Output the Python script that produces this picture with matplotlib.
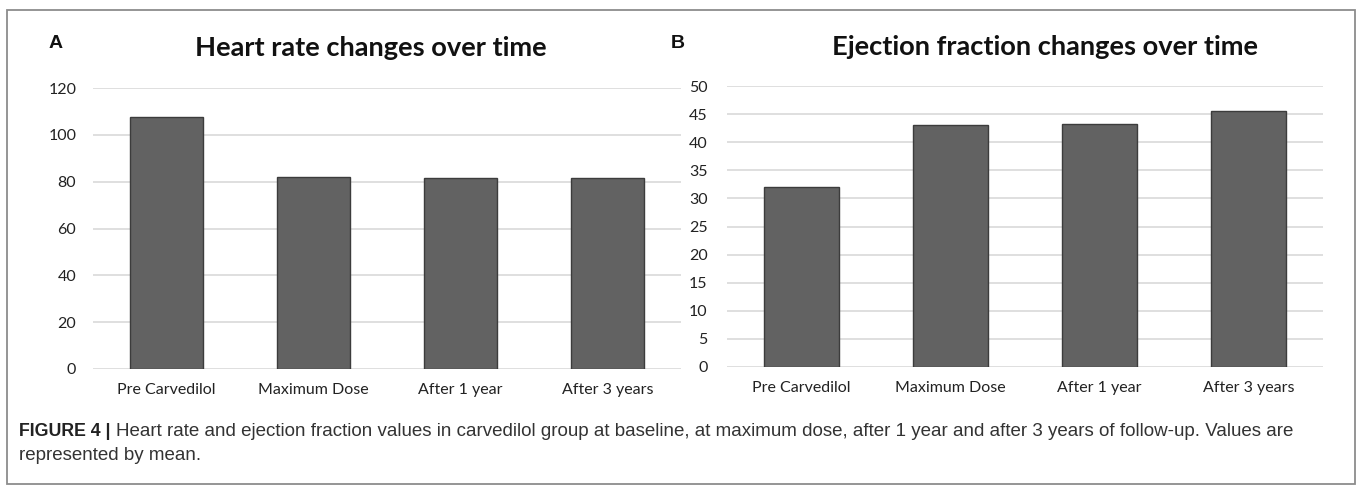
import matplotlib
matplotlib.use("Agg")
import matplotlib.pyplot as plt
from matplotlib.patches import Rectangle

# data
categories = ["Pre Carvedilol", "Maximum Dose", "After 1 year", "After 3 years"]
heart_rate = [107.6, 82.0, 81.6, 81.6]
ejection_fraction = [32.0, 43.0, 43.3, 45.6]

hr_ticks = [0, 20, 40, 60, 80, 100, 120]
ef_ticks = [0, 5, 10, 15, 20, 25, 30, 35, 40, 45, 50]

title_font = "Lato"
bar_color = "#626262"
edge_color = "#3c3c3c"

fig = plt.figure(figsize=(13.6, 4.91), dpi=100)

# outer frame around the whole figure
fig.patches.append(Rectangle((7 / 1360, 1 - 484 / 491), (1355 - 7) / 1360, (484 - 10) / 491,
                             transform=fig.transFigure, fill=False,
                             edgecolor="#8c8c8c", linewidth=1.3))


def bar_panel(ax, values, ticks, ytick_pad):
    x = range(len(categories))
    ax.bar(x, values, width=0.5, color=bar_color, edgecolor=edge_color, linewidth=1.0, zorder=3)
    ax.set_xlim(-0.5, len(categories) - 0.5)
    ax.set_ylim(ticks[0], ticks[-1])
    ax.set_yticks(ticks)
    ax.set_xticks(list(x))
    ax.set_xticklabels(categories, fontsize=11.5, family=title_font)
    for lbl in ax.get_yticklabels():
        lbl.set_fontsize(11.5)
        lbl.set_family(title_font)
    ax.tick_params(axis="both", length=0, colors="#222222")
    ax.tick_params(axis="y", pad=ytick_pad)
    ax.tick_params(axis="x", pad=10)
    ax.grid(axis="y", color="#d9d9d9", linewidth=1.2, zorder=0)
    for s in ax.spines.values():
        s.set_visible(False)
    ax.set_axisbelow(True)


ax1 = fig.add_axes([93 / 1360, 1 - 369 / 491, (681 - 93) / 1360, (369 - 88) / 491])
bar_panel(ax1, heart_rate, hr_ticks, 12)

ax2 = fig.add_axes([727 / 1360, 1 - 367 / 491, (1323 - 727) / 1360, (367 - 86) / 491])
bar_panel(ax2, ejection_fraction, ef_ticks, 14)

# titles and panel letters
fig.text(371 / 1360, 1 - 48 / 491, "Heart rate changes over time", ha="center", va="center",
         fontsize=19.6, fontweight="bold", family=title_font, color="#111111")
fig.text(1045 / 1360, 1 - 47 / 491, "Ejection fraction changes over time", ha="center", va="center",
         fontsize=19.6, fontweight="bold", family=title_font, color="#111111")
fig.text(56 / 1360, 1 - 44 / 491, "A", ha="center", va="center",
         fontsize=14, fontweight="bold", family="Liberation Sans", color="#111111")
fig.text(678 / 1360, 1 - 44 / 491, "B", ha="center", va="center",
         fontsize=14, fontweight="bold", family="Liberation Sans", color="#111111")

# caption
lab = fig.text(19 / 1360, 1 - 432 / 491, "FIGURE 4 |", ha="left", va="center",
               fontsize=12.8, fontweight="bold", family="Liberation Sans", color="#222222")
fig.canvas.draw()
bb = lab.get_window_extent(fig.canvas.get_renderer())
fig.text((bb.x1 + 6) / 1360, 1 - 432 / 491,
         "Heart rate and ejection fraction values in carvedilol group at baseline, at maximum dose, "
         "after 1 year and after 3 years of follow-up. Values are",
         ha="left", va="center", fontsize=13.5, family="Liberation Sans", color="#333333")
fig.text(19 / 1360, 1 - 456 / 491, "represented by mean.", ha="left", va="center",
         fontsize=13.5, family="Liberation Sans", color="#333333")

plt.savefig("out.png", dpi=100)
